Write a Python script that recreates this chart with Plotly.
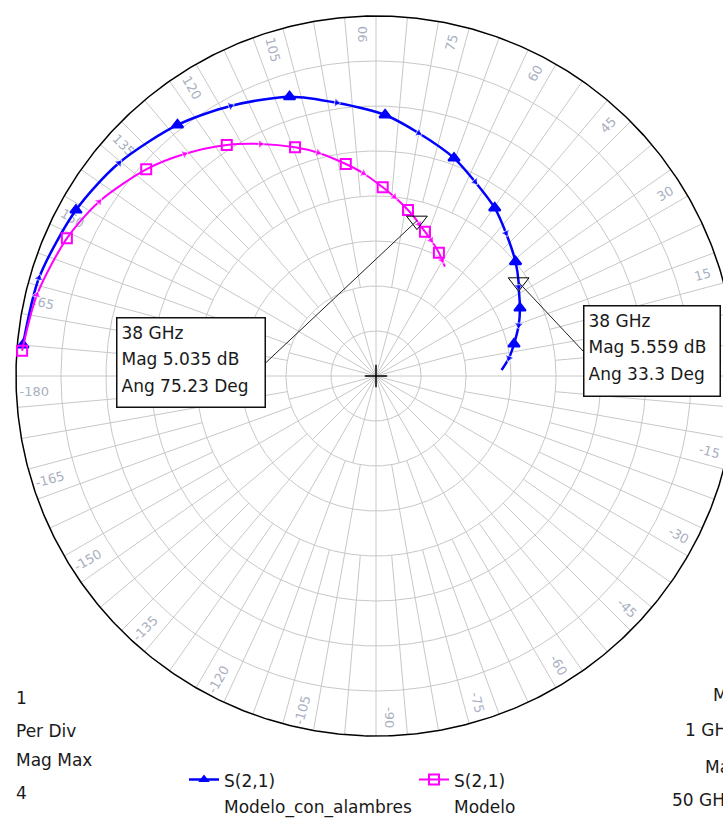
import numpy as np
import plotly.graph_objects as go

# ---------------- data ----------------
freq_ghz = [1, 3.5, 6, 8.5, 11, 13.5, 16, 18.5, 21, 23.5, 26, 28.5, 31, 33.5,
            36, 38, 38.5, 41, 43.5, 46, 48.5, 50]

# S(2,1) Modelo_con_alambres : linear magnitude, angle (deg)
wired_mag = [3.938, 3.900, 3.810, 3.709, 3.556, 3.408, 3.249, 3.068, 2.902, 2.741,
             2.572, 2.423, 2.286, 2.147, 2.004, 1.896, 1.870, 1.769, 1.684, 1.574,
             1.491, 1.397]
wired_ang = [174.98, 163.8, 151.05, 140.35, 128.34, 118.3, 107.2, 98.2, 88.0, 80.06,
             70.3, 63.0, 54.76, 47.73, 39.33, 33.3, 32.04, 25.27, 19.67, 13.05,
             7.7, 2.73]

# S(2,1) Modelo
model_mag = [3.942, 3.874, 3.760, 3.636, 3.434, 3.258, 3.056, 2.880, 2.696, 2.563,
             2.379, 2.257, 2.098, 2.002, 1.879, 1.785, 1.755, 1.693, 1.630, 1.538,
             1.483, 1.436]
model_ang = [175.91, 166.57, 156.0, 147.81, 138.03, 130.8, 122.86, 116.47, 109.5, 104.54,
             98.11, 93.58, 87.97, 84.2, 79.09, 75.23, 74.2, 71.25, 67.98, 62.97,
             60.36, 57.78]

symbol_freqs = [1, 6, 11, 16, 21, 26, 31, 36, 41, 46]
arrow_freqs = [3.5, 8.5, 13.5, 18.5, 23.5, 28.5, 33.5, 38.5, 43.5, 48.5]
marker_freq = 38
marker_text_wired = ["38 GHz", "Mag 5.559 dB", "Ang 33.3 Deg"]
marker_text_model = ["38 GHz", "Mag 5.035 dB", "Ang 75.23 Deg"]

mag_max = 4
ring_step = 0.5
angle_ticks = list(range(0, 360, 15))
angle_tick_labels = [str(a if a < 180 else a - 360) for a in angle_ticks]

info_left = ["1", "Per Div", "Mag Max", "4"]
info_right = ["Min", "1 GHz", "Max", "50 GHz"]

# ---------------- layout constants ----------------
W, H = 723, 818
CX, CY, RPX = 376, 376, 360
S = RPX / mag_max            # pixels per magnitude unit
BLUE = "#0000ff"
MAG = "#ff00ff"
GRID = "#c8c8c8"
LBL = "#a9b0bf"
TXT = "#1a1a1a"
FONT = "DejaVu Sans"


def px(x):
    return x / W


def py(y):
    return 1 - y / H


def to_xy(mag, ang):
    m = np.asarray(mag, dtype=float)
    a = np.deg2rad(np.asarray(ang, dtype=float))
    return m * np.cos(a), m * np.sin(a)


def sel(vals, freqs):
    return [v for v, f in zip(vals, freq_ghz) if f in freqs]


def nan_join(parts):
    xs, ys = [], []
    for x, y in parts:
        xs += list(x) + [None]
        ys += list(y) + [None]
    return xs, ys


fig = go.Figure()

# ring grid
tt = np.linspace(0, 360, 721)
rings = [to_xy(np.full_like(tt, r), tt) for r in np.arange(ring_step, mag_max, ring_step)]
rx, ry = nan_join(rings)
fig.add_trace(go.Scatter(x=rx, y=ry, mode="lines", line=dict(color=GRID, width=1),
                         hoverinfo="skip", showlegend=False))

# spokes: 15 deg inside r<1, 10 deg for 1<r<2, 5 deg for 2<r<4
spk = []
for step, r0, r1 in [(15, 0, 1), (10, 1, 2), (5, 2, mag_max)]:
    for a in range(0, 360, step):
        spk.append(to_xy([r0, r1], [a, a]))
sx, sy = nan_join(spk)
fig.add_trace(go.Scatter(x=sx, y=sy, mode="lines", line=dict(color=GRID, width=1),
                         hoverinfo="skip", showlegend=False))

# outer circle
ox, oy = to_xy(np.full_like(tt, mag_max), tt)
fig.add_trace(go.Scatter(x=ox, y=oy, mode="lines", line=dict(color="black", width=1.5),
                         hoverinfo="skip", showlegend=False))

for mags, angs, color, lw, sym in [
        (wired_mag, wired_ang, BLUE, 2.5, "triangle-up"),
        (model_mag, model_ang, MAG, 2.0, "square-open")]:
    x, y = to_xy(mags, angs)
    fig.add_trace(go.Scatter(
        x=x, y=y, mode="lines+markers",
        line=dict(color=color, width=lw, shape="spline", smoothing=0.8),
        marker=dict(symbol="triangle-up", angleref="previous", color=color,
                    size=[8 if f in arrow_freqs else 0 for f in freq_ghz]),
        hoverinfo="skip", showlegend=False))
    bx, by = to_xy(sel(mags, symbol_freqs), sel(angs, symbol_freqs))
    fig.add_trace(go.Scatter(
        x=bx, y=by, mode="markers",
        marker=dict(symbol=sym, color=color, size=10,
                    line=dict(color=color, width=2)),
        hoverinfo="skip", showlegend=False))

# 38 GHz markers
mx, my = to_xy(sel(wired_mag, [marker_freq]) + sel(model_mag, [marker_freq]),
               sel(wired_ang, [marker_freq]) + sel(model_ang, [marker_freq]))
fig.add_trace(go.Scatter(
    x=mx, y=my, mode="markers",
    marker=dict(symbol="triangle-down-open", size=18, color="black",
                line=dict(color="black", width=1)),
    hoverinfo="skip", showlegend=False))

# centre cross
fig.add_trace(go.Scatter(x=[0], y=[0], mode="markers",
                         marker=dict(symbol="cross-thin-open", size=16, color="black",
                                     line=dict(color="black", width=1.5)),
                         hoverinfo="skip", showlegend=False))

# legend entries
fig.add_trace(go.Scatter(x=[None], y=[None], mode="lines+markers",
                         name="<span style='font-size:17px'>S(2,1)</span><br><span style='font-size:17px'>Modelo_con_alambres</span>",
                         line=dict(color=BLUE, width=2.5),
                         marker=dict(symbol="triangle-up", size=10, color=BLUE)))
fig.add_trace(go.Scatter(x=[None], y=[None], mode="lines+markers",
                         name="<span style='font-size:17px'>S(2,1)</span><br><span style='font-size:17px'>Modelo</span>",
                         line=dict(color=MAG, width=2),
                         marker=dict(symbol="square-open", size=10, color=MAG,
                                     line=dict(color=MAG, width=2))))

shapes = []
annotations = []

# angle labels (below the curves and grid)
for a, txt in zip(angle_ticks, angle_tick_labels):
    t = a if a < 180 else a - 360
    if -90 <= t <= 90:
        ta = -t
    else:
        ta = 180 - t
        if ta > 180:
            ta -= 360
    lx, ly = to_xy(3.8, a + 2.4)
    shapes.append(dict(type="rect", xref="x", yref="y", layer="below",
                       x0=lx - 0.001, x1=lx + 0.001, y0=ly - 0.001, y1=ly + 0.001,
                       line=dict(width=0),
                       label=dict(text=txt, textangle=ta, textposition="middle center",
                                  font=dict(family=FONT, size=13, color=LBL))))

# marker boxes with leader lines
for mags, angs, lines, box in [
        (wired_mag, wired_ang, marker_text_wired, (583, 305, 721, 397)),
        (model_mag, model_ang, marker_text_model, (116, 317, 266, 408))]:
    m0x, m0y = to_xy(sel(mags, [marker_freq])[0], sel(angs, [marker_freq])[0])
    bx0, by0, bx1, by1 = box
    ex = bx0 if bx0 > CX else bx1
    ey = (by0 + by1) / 2
    shapes.append(dict(type="line", xref="x", yref="y", layer="above",
                       x0=float(m0x), y0=float(m0y),
                       x1=(ex - CX) / S, y1=(CY - ey) / S,
                       line=dict(color="#202020", width=1)))
    annotations.append(dict(
        xref="paper", yref="paper", x=px(bx0), y=py(by0), xanchor="left", yanchor="top",
        text="<br>".join("<span style='font-size:17px'>%s</span>" % s for s in lines),
        showarrow=False, align="left", width=bx1 - bx0 - 11, height=by1 - by0 - 11,
        valign="top",
        font=dict(family=FONT, size=20.7, color=TXT),
        bgcolor="white", bordercolor="#101010", borderwidth=1.5, borderpad=4))

for s, y in zip(info_left, [698, 731, 760, 793]):
    annotations.append(dict(xref="paper", yref="paper", x=px(14), y=py(y),
                            xanchor="left", yanchor="middle", text=s, showarrow=False,
                            font=dict(family=FONT, size=17, color=TXT)))
for s, x, y in zip(info_right, [711, 683, 703, 670], [695, 730, 767, 800]):
    annotations.append(dict(xref="paper", yref="paper", x=px(x), y=py(y),
                            xanchor="left", yanchor="middle", text=s, showarrow=False,
                            font=dict(family=FONT, size=17, color=TXT)))

fig.update_layout(
    width=W, height=H,
    margin=dict(l=0, r=0, t=0, b=0, autoexpand=False),
    paper_bgcolor="white", plot_bgcolor="white",
    font=dict(family=FONT, color=TXT),
    hovermode=False,
    xaxis=dict(domain=[0, 1], range=[(0 - CX) / S, (W - CX) / S], visible=False,
               fixedrange=True),
    yaxis=dict(domain=[0, 1], range=[(CY - H) / S, CY / S], visible=False,
               fixedrange=True),
    showlegend=True,
    legend=dict(orientation="h", x=px(184), y=py(760), xanchor="left", yanchor="top",
                font=dict(family=FONT, size=20, color=TXT), valign="top",
                entrywidth=185, entrywidthmode="pixels",
                bgcolor="rgba(0,0,0,0)", borderwidth=0),
    shapes=shapes,
    annotations=annotations,
)

fig.write_html("out.html",
               config=dict(displayModeBar=False),
               post_script="document.body.style.margin='0';"
                           "document.body.style.overflow='hidden';")
